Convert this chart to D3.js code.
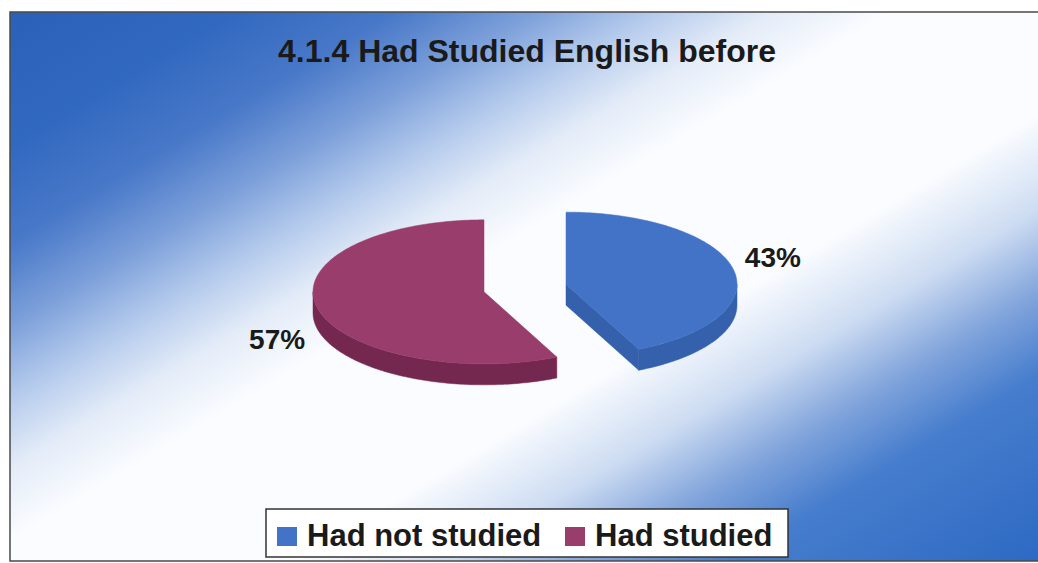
<!DOCTYPE html>
<html>
<head>
<meta charset="utf-8">
<script src="https://cdn.jsdelivr.net/npm/d3@7"></script>
<style>
  html, body { margin: 0; padding: 0; background: #fff; }
  svg { display: block; }
</style>
</head>
<body>
<svg id="chart" width="1038" height="563"></svg>
<script>
// ---- data ----
const titleText = "4.1.4 Had Studied English before";
const categories = ["Had not studied", "Had studied"];
const values = [43, 57];
const labels = ["43%", "57%"];
const topColors = ["#4273c6", "#993d6d"];
const sideColors = ["#3560ac", "#74284f"];

const W = 1038, H = 563;
const svg = d3.select("#chart");

// ---- background ----
const defs = svg.append("defs");
const grad = defs.append("linearGradient")
  .attr("id", "bg").attr("gradientUnits", "userSpaceOnUse")
  .attr("x1", 0).attr("y1", 0).attr("x2", 524).attr("y2", 874);
[
  [0, "rgb(42,95,184)"], [0.13, "rgb(50,105,192)"], [0.21, "rgb(72,120,200)"],
  [0.28, "rgb(125,160,218)"], [0.34, "rgb(180,202,236)"], [0.40, "rgb(228,236,248)"],
  [0.46, "rgb(250,252,255)"], [0.62, "rgb(250,252,255)"], [0.7, "rgb(205,220,242)"],
  [0.77, "rgb(130,165,220)"], [0.84, "rgb(70,125,205)"], [1, "rgb(45,105,195)"]
].forEach(([o, c]) => grad.append("stop").attr("offset", o).attr("stop-color", c));

svg.append("rect").attr("x", 10).attr("y", 12).attr("width", W + 10).attr("height", 549)
  .attr("fill", "url(#bg)").attr("stroke", "#4a4a4a").attr("stroke-width", 1.5);

// ---- title ----
svg.append("text").attr("x", 527).attr("y", 62).attr("text-anchor", "middle")
  .attr("font-family", "Liberation Sans, Arial, sans-serif").attr("font-weight", "bold")
  .attr("font-size", 32).attr("fill", "#1a1a1a").text(titleText);

// ---- 3D pie ----
const cx0 = 525, cy0 = 288, rx = 171, ry = 72, depth = 21, explode = 42;
const pie = d3.pie().sort(null).value(d => d)(values);

function pt(cx, cy, a, dy = 0) { // a: radians clockwise from 12 o'clock
  return [cx + rx * Math.sin(a), cy - ry * Math.cos(a) + dy];
}
function arcPts(cx, cy, a0, a1, dy = 0) {
  const n = Math.max(2, Math.ceil(Math.abs(a1 - a0) / 0.02));
  const out = [];
  for (let i = 0; i <= n; i++) out.push(pt(cx, cy, a0 + (a1 - a0) * i / n, dy));
  return out;
}
const line = d3.line();

const slices = pie.map((p, i) => {
  const mid = (p.startAngle + p.endAngle) / 2;
  return {
    p, i, mid,
    cx: cx0 + explode * Math.sin(mid),
    cy: cy0 - explode * (ry / rx) * Math.cos(mid)
  };
});

const g = svg.append("g");
// cut faces (visible ones)
slices.forEach(s => {
  const a0 = s.p.startAngle, a1 = s.p.endAngle;
  [[a0, Math.sin(a0) < -1e-6], [a1, Math.sin(a1) > 1e-6]].forEach(([a, vis]) => {
    if (!vis) return;
    const o = pt(s.cx, s.cy, a);
    const poly = [[s.cx, s.cy], o, [o[0], o[1] + depth], [s.cx, s.cy + depth]];
    g.append("path").attr("d", line(poly) + "Z").attr("fill", sideColors[s.i])
      .attr("stroke", sideColors[s.i]).attr("stroke-width", 0.5);
  });
});
// outer walls (front half)
slices.forEach(s => {
  const lo = Math.max(s.p.startAngle, Math.PI / 2);
  const hi = Math.min(s.p.endAngle, 3 * Math.PI / 2);
  if (hi <= lo) return;
  const top = arcPts(s.cx, s.cy, lo, hi);
  const bot = arcPts(s.cx, s.cy, hi, lo, depth);
  g.append("path").attr("d", line(top.concat(bot)) + "Z").attr("fill", sideColors[s.i])
    .attr("stroke", sideColors[s.i]).attr("stroke-width", 0.5);
});
// top surfaces
slices.forEach(s => {
  const pts = [[s.cx, s.cy]].concat(arcPts(s.cx, s.cy, s.p.startAngle, s.p.endAngle));
  g.append("path").attr("d", line(pts) + "Z").attr("fill", topColors[s.i])
    .attr("stroke", topColors[s.i]).attr("stroke-width", 0.5);
});

// labels
const lfs = 28;
slices.forEach(s => {
  const lx = s.cx + 212 * Math.sin(s.mid);
  const ly = s.cy - 120 * Math.cos(s.mid) + (Math.cos(s.mid) < 0 ? depth : 0);
  svg.append("text").attr("x", lx).attr("y", ly + 0.34 * lfs).attr("text-anchor", "middle")
    .attr("font-family", "Liberation Sans, Arial, sans-serif").attr("font-weight", "bold")
    .attr("font-size", lfs).attr("fill", "#1a1a1a").text(labels[s.i]);
});

// ---- legend ----
const leg = svg.append("g");
leg.append("rect").attr("x", 266).attr("y", 509).attr("width", 522).attr("height", 48)
  .attr("fill", "#fff").attr("stroke", "#333").attr("stroke-width", 1.5);
const legX = [277, 565];
categories.forEach((c, i) => {
  leg.append("rect").attr("x", legX[i]).attr("y", 527).attr("width", 20).attr("height", 19)
    .attr("fill", topColors[i]);
  leg.append("text").attr("x", legX[i] + 30).attr("y", 546)
    .attr("font-family", "Liberation Sans, Arial, sans-serif").attr("font-weight", "bold")
    .attr("font-size", 31).attr("fill", "#1a1a1a").text(c);
});
</script>
</body>
</html>
